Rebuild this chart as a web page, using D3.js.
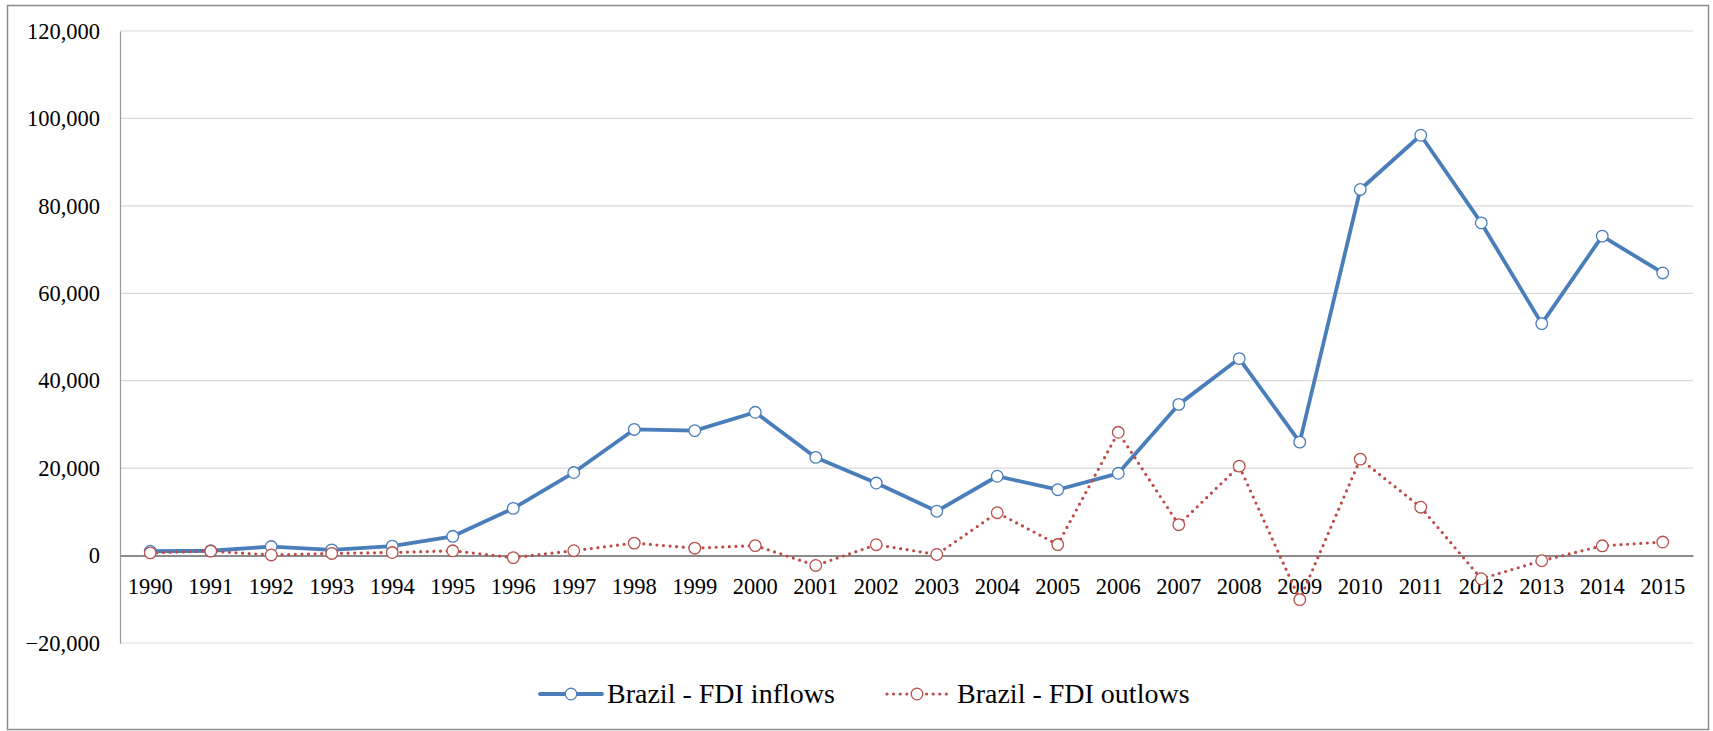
<!DOCTYPE html>
<html>
<head>
<meta charset="utf-8">
<script src="https://cdn.jsdelivr.net/npm/d3@7"></script>
<style>
  html, body { margin: 0; padding: 0; background: #fff; }
  svg { display: block; }
  text { font-family: "Liberation Serif", "Times New Roman", serif; fill: #000; }
</style>
</head>
<body>
<svg id="chart" width="1713" height="731"></svg>
<script>
// Brazil foreign direct investment, US$ millions
const years = ["1990","1991","1992","1993","1994","1995","1996","1997","1998","1999",
               "2000","2001","2002","2003","2004","2005","2006","2007","2008","2009",
               "2010","2011","2012","2013","2014","2015"];
const inflows = [989, 1102, 2061, 1291, 2150, 4405, 10792, 18993, 28856, 28578,
                 32779, 22457, 16590, 10144, 18146, 15066, 18822, 34585, 45058, 25949,
                 83749, 96152, 76098, 53060, 73086, 64648];
const outflows = [625, 1014, 137, 491, 689, 1096, -469, 1116, 2854, 1690,
                  2282, -2258, 2482, 249, 9807, 2517, 28202, 7067, 20457, -10084,
                  22060, 11062, -5301, -1180, 2230, 3092];
const yTicks = [-20000, 0, 20000, 40000, 60000, 80000, 100000, 120000];
const seriesNames = ["Brazil - FDI inflows", "Brazil - FDI outlows"];

const svg = d3.select("#chart");

// outer chart frame
svg.append("rect")
  .attr("x", 7.5).attr("y", 5.5).attr("width", 1701).attr("height", 724)
  .attr("fill", "#fff").attr("stroke", "#8c8c8c").attr("stroke-width", 1.5);

const x = d3.scaleBand().domain(years).range([120, 1693]);
const y = d3.scaleLinear().domain([-20000, 120000]).range([643, 31]);
const cx = d => x(d) + x.bandwidth() / 2;

// horizontal gridlines
svg.append("g").selectAll("line").data(yTicks.filter(t => t !== 0)).join("line")
  .attr("x1", 120).attr("x2", 1693)
  .attr("y1", d => y(d)).attr("y2", d => y(d))
  .attr("stroke", "#d9d9d9").attr("stroke-width", 1.2);

// value axis
const yAxis = svg.append("g").attr("transform", "translate(120,0)")
  .call(d3.axisLeft(y).tickValues(yTicks).tickFormat(d3.format(",")).tickSize(0).tickPadding(20));
yAxis.select(".domain").attr("stroke", "#9a9a9a").attr("stroke-width", 1.2);
yAxis.selectAll("text")
  .style("font-family", "'Liberation Serif', serif")
  .style("font-size", "22.5px").attr("fill", "#000");

// category axis on the zero line
const xAxis = svg.append("g").attr("transform", `translate(0,${y(0)})`)
  .call(d3.axisBottom(x).tickSize(0).tickPadding(22));
xAxis.select(".domain").attr("stroke", "#8c8c8c").attr("stroke-width", 2);
xAxis.selectAll("text")
  .style("font-family", "'Liberation Serif', serif")
  .style("font-size", "22.5px").attr("fill", "#000");

const line = d3.line().x((d, i) => cx(years[i])).y(d => y(d));

const styles = [
  { color: "#4a7ebb", width: 3.8, dash: null, cap: "round", marker: "#4a7ebb" },
  { color: "#be4b48", width: 3.2, dash: "0 6.6", cap: "round", marker: "#b8504c" }
];
const series = [inflows, outflows];

series.forEach((vals, k) => {
  const s = styles[k];
  svg.append("path").datum(vals)
    .attr("d", line)
    .attr("fill", "none")
    .attr("stroke", s.color)
    .attr("stroke-width", s.width)
    .attr("stroke-linejoin", "round")
    .attr("stroke-linecap", s.cap)
    .attr("stroke-dasharray", s.dash);
  svg.append("g").selectAll("circle").data(vals).join("circle")
    .attr("cx", (d, i) => cx(years[i]))
    .attr("cy", d => y(d))
    .attr("r", 5.8)
    .attr("fill", "#fff")
    .attr("stroke", s.marker)
    .attr("stroke-width", 1.3);
});

// legend
const legendItems = [
  { x0: 540, x1: 602, tx: 607 },
  { x0: 887, x1: 947, tx: 957 }
];
const ly = 694;
const legend = svg.append("g");
legendItems.forEach((it, k) => {
  const s = styles[k];
  legend.append("line")
    .attr("x1", it.x0).attr("x2", it.x1).attr("y1", ly).attr("y2", ly)
    .attr("stroke", s.color).attr("stroke-width", s.width)
    .attr("stroke-linecap", s.cap).attr("stroke-dasharray", s.dash);
  legend.append("circle")
    .attr("cx", (it.x0 + it.x1) / 2).attr("cy", ly).attr("r", 5.8)
    .attr("fill", "#fff").attr("stroke", s.marker).attr("stroke-width", 1.3);
  legend.append("text")
    .attr("x", it.tx).attr("y", ly + 9)
    .style("font-size", "28px")
    .text(seriesNames[k]);
});
</script>
</body>
</html>
